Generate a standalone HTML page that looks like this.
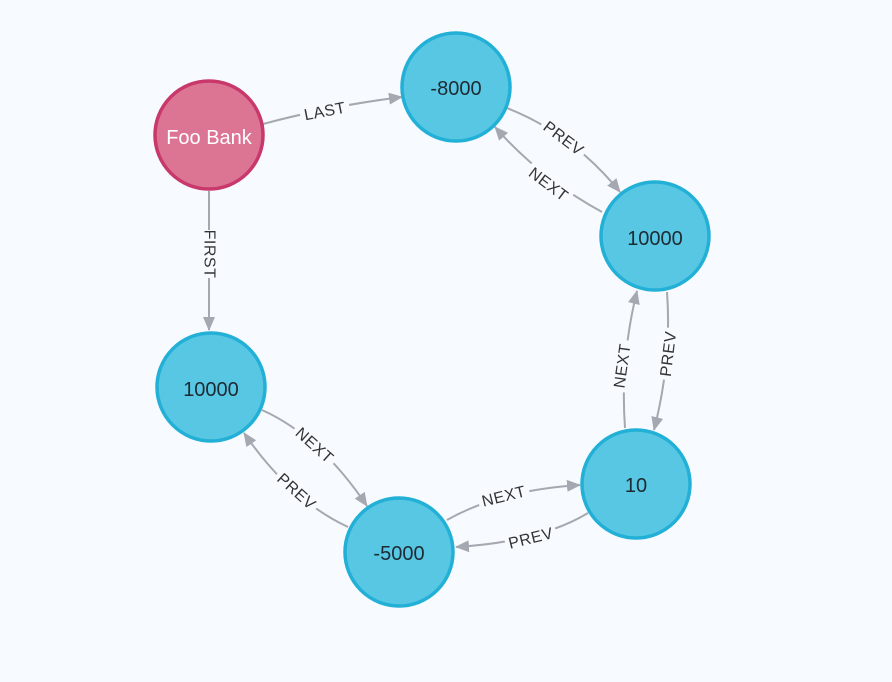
<!DOCTYPE html>
<html><head><meta charset="utf-8"><style>
html,body{margin:0;padding:0;background:#f7fbff;}
svg{display:block;}
text{font-family:"Liberation Sans",sans-serif;}
.e{fill:none;stroke:#a5a8b0;stroke-width:2;}
.l{font-size:16px;fill:#333;text-anchor:middle;dominant-baseline:central;letter-spacing:0.5px;}
.n{fill:#57c7e3;stroke:#23b0d6;stroke-width:3.5;}
.t{font-size:20px;fill:#1e2a33;text-anchor:middle;dominant-baseline:central;}
</style></head><body>
<svg width="892" height="682" viewBox="0 0 892 682">
<defs><marker id="a" viewBox="0 0 14 12" refX="13" refY="6" markerWidth="14" markerHeight="12" markerUnits="userSpaceOnUse" orient="auto"><path d="M0,0 L14,6 L0,12 z" fill="#a5a8b0"/></marker></defs>
<g class="e" marker-end="url(#a)">
<path d="M263,124 Q330,106 402,97"/>
<path d="M209,191 L209,330"/>
<path d="M507,108 Q573,134 620,192"/>
<path d="M602,212 Q540,178 495,127"/>
<path d="M667,292 Q672,360 654,430"/>
<path d="M625,428 Q620,360 637,291"/>
<path d="M447,520 Q500,490 580,485"/>
<path d="M588,513 Q540,542 456,547"/>
<path d="M262,410 Q320,436 367,506"/>
<path d="M348,527 Q290,500 244,433"/>
</g>
<g fill="#f7fbff">
<rect x="-25" y="-9" width="50" height="18" transform="translate(325,112) rotate(-11)"/>
<rect x="-24" y="-9" width="48" height="18" transform="translate(209,254) rotate(90)"/>
<rect x="-26" y="-9" width="52" height="18" transform="translate(563,139) rotate(37)"/>
<rect x="-26" y="-9" width="52" height="18" transform="translate(548,185) rotate(37)"/>
<rect x="-26" y="-9" width="52" height="18" transform="translate(669,354) rotate(-83)"/>
<rect x="-26" y="-9" width="52" height="18" transform="translate(623,366) rotate(-82)"/>
<rect x="-26" y="-9" width="52" height="18" transform="translate(504,497) rotate(-14)"/>
<rect x="-26" y="-9" width="52" height="18" transform="translate(531,539) rotate(-14)"/>
<rect x="-26" y="-9" width="52" height="18" transform="translate(314,446) rotate(42)"/>
<rect x="-26" y="-9" width="52" height="18" transform="translate(296,492) rotate(42)"/>
</g>
<g class="l">
<text transform="translate(325,112) rotate(-11)">LAST</text>
<text transform="translate(209,254) rotate(90)">FIRST</text>
<text transform="translate(563,139) rotate(37)">PREV</text>
<text transform="translate(548,185) rotate(37)">NEXT</text>
<text transform="translate(669,354) rotate(-83)">PREV</text>
<text transform="translate(623,366) rotate(-82)">NEXT</text>
<text transform="translate(504,497) rotate(-14)">NEXT</text>
<text transform="translate(531,539) rotate(-14)">PREV</text>
<text transform="translate(314,446) rotate(42)">NEXT</text>
<text transform="translate(296,492) rotate(42)">PREV</text>
</g>
<circle cx="209" cy="135" r="54" fill="#dc7594" stroke="#c8386a" stroke-width="3.5"/>
<text class="t" x="209" y="138" style="fill:#fff">Foo Bank</text>
<circle class="n" cx="456" cy="87" r="54"/><text class="t" x="456" y="89">-8000</text>
<circle class="n" cx="655" cy="236" r="54"/><text class="t" x="655" y="239">10000</text>
<circle class="n" cx="636" cy="484" r="54"/><text class="t" x="636" y="486">10</text>
<circle class="n" cx="399" cy="552" r="54"/><text class="t" x="399" y="554">-5000</text>
<circle class="n" cx="211" cy="387" r="54"/><text class="t" x="211" y="390">10000</text>
</svg>
</body></html>
